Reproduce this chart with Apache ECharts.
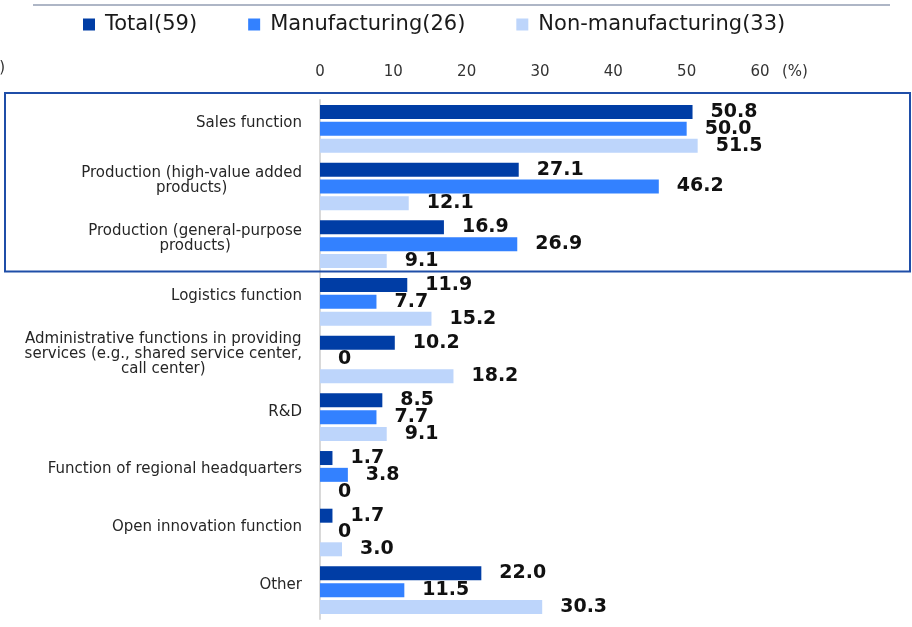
<!DOCTYPE html>
<html>
<head>
<meta charset="utf-8">
<script src="https://cdn.jsdelivr.net/npm/echarts@6/dist/echarts.min.js"></script>
<style>
  html, body { margin: 0; padding: 0; background: #ffffff; }
  #chart { width: 912px; height: 627px; }
</style>
</head>
<body>
<div id="chart"></div>
<script>
// Functions located in the region (multiple answers, %)
const categories = [
  'Sales function',
  'Production (high-value added\nproducts)',
  'Production (general-purpose\nproducts)',
  'Logistics function',
  'Administrative functions in providing\nservices (e.g., shared service center,\ncall center)',
  'R&D',
  'Function of regional headquarters',
  'Open innovation function',
  'Other'
];
const seriesNames = ['Total(59)', 'Manufacturing(26)', 'Non-manufacturing(33)'];
const totalValues = [50.8, 27.1, 16.9, 11.9, 10.2, 8.5, 1.7, 1.7, 22.0];
const manufacturingValues = [50.0, 46.2, 26.9, 7.7, 0, 7.7, 3.8, 0, 11.5];
const nonManufacturingValues = [51.5, 12.1, 9.1, 15.2, 18.2, 9.1, 0, 3.0, 30.3];
const xTicks = [0, 10, 20, 30, 40, 50, 60];
const unitLabel = '(%)';
const highlightedCount = 3; // first three functions are framed

const colors = ['#003da5', '#3381ff', '#bdd5fb'];
const FONT = 'DejaVu Sans';

const chart = echarts.init(document.getElementById('chart'), null, { renderer: 'canvas' });

function barSeries(name, values, color) {
  return {
    name: name,
    type: 'bar',
    data: values,
    barWidth: 14,
    barGap: '20%',
    itemStyle: { color: color },
    label: {
      show: true,
      position: 'right',
      distance: 18,
      fontFamily: FONT,
      fontSize: 19,
      fontWeight: 'bold',
      color: '#111111',
      formatter: p => (p.value === 0 ? '0' : p.value.toFixed(1))
    }
  };
}

const option = {
  animation: false,
  backgroundColor: '#ffffff',
  textStyle: { fontFamily: FONT },
  color: colors,
  legend: {
    left: 78,
    top: 9,
    icon: 'rect',
    itemWidth: 12,
    itemHeight: 12,
    itemGap: 51,
    selectedMode: false,
    textStyle: { fontFamily: FONT, fontSize: 21, color: '#1a1a1a', padding: [0, 0, 0, 5] },
    data: seriesNames
  },
  grid: { left: 320, right: 152, top: 100, height: 519, containLabel: false },
  xAxis: {
    type: 'value',
    position: 'top',
    min: xTicks[0],
    max: xTicks[xTicks.length - 1],
    interval: xTicks[1] - xTicks[0],
    axisLine: { show: false },
    axisTick: { show: false },
    splitLine: { show: false },
    axisLabel: { fontFamily: FONT, fontSize: 15, color: '#333333', margin: 20 }
  },
  yAxis: {
    type: 'category',
    inverse: true,
    data: categories,
    axisLine: { show: true, lineStyle: { color: '#d9d9d9', width: 2 } },
    axisTick: { show: false },
    axisLabel: {
      margin: 18,
      padding: [0, 0, 11, 0],
      formatter: v => v.split('\n').map(line => '{c|' + line + '}').join('\n'),
      rich: {
        c: { align: 'center', fontFamily: FONT, fontSize: 15, lineHeight: 15, color: '#262626' }
      }
    }
  },
  series: [
    barSeries(seriesNames[0], totalValues, colors[0]),
    barSeries(seriesNames[1], manufacturingValues, colors[1]),
    barSeries(seriesNames[2], nonManufacturingValues, colors[2])
  ]
};

chart.setOption(option);

// Frame around the leading functions, unit label and the thin rule above the legend
const yFirst = chart.convertToPixel({ yAxisIndex: 0 }, categories[0]);
const ySecond = chart.convertToPixel({ yAxisIndex: 0 }, categories[1]);
const yLast = chart.convertToPixel({ yAxisIndex: 0 }, categories[highlightedCount - 1]);
const step = ySecond - yFirst;
const boxTop = yFirst - step / 2 - 7;
const boxBottom = yLast + step / 2 - 1.5;
const xEnd = chart.convertToPixel({ xAxisIndex: 0 }, xTicks[xTicks.length - 1]);
const tickLabelY = 100 - 20 - 8;

chart.setOption({
  graphic: [
    {
      type: 'line',
      shape: { x1: 33, y1: 5, x2: 890, y2: 5 },
      style: { stroke: '#aeb6c6', lineWidth: 2 },
      z: 10
    },
    {
      type: 'rect',
      shape: { x: 5, y: boxTop, width: 905, height: boxBottom - boxTop },
      style: { fill: 'none', stroke: '#1f4ea8', lineWidth: 2 },
      z: 100
    },
    {
      type: 'text',
      x: xEnd + 22,
      y: tickLabelY,
      style: { text: unitLabel, font: '15px "DejaVu Sans"', fill: '#333333', align: 'left', verticalAlign: 'middle' }
    },
    {
      type: 'text',
      x: 5,
      y: 68,
      style: { text: unitLabel, font: '15px "DejaVu Sans"', fill: '#333333', align: 'right', verticalAlign: 'middle' }
    }
  ]
});
</script>
</body>
</html>
